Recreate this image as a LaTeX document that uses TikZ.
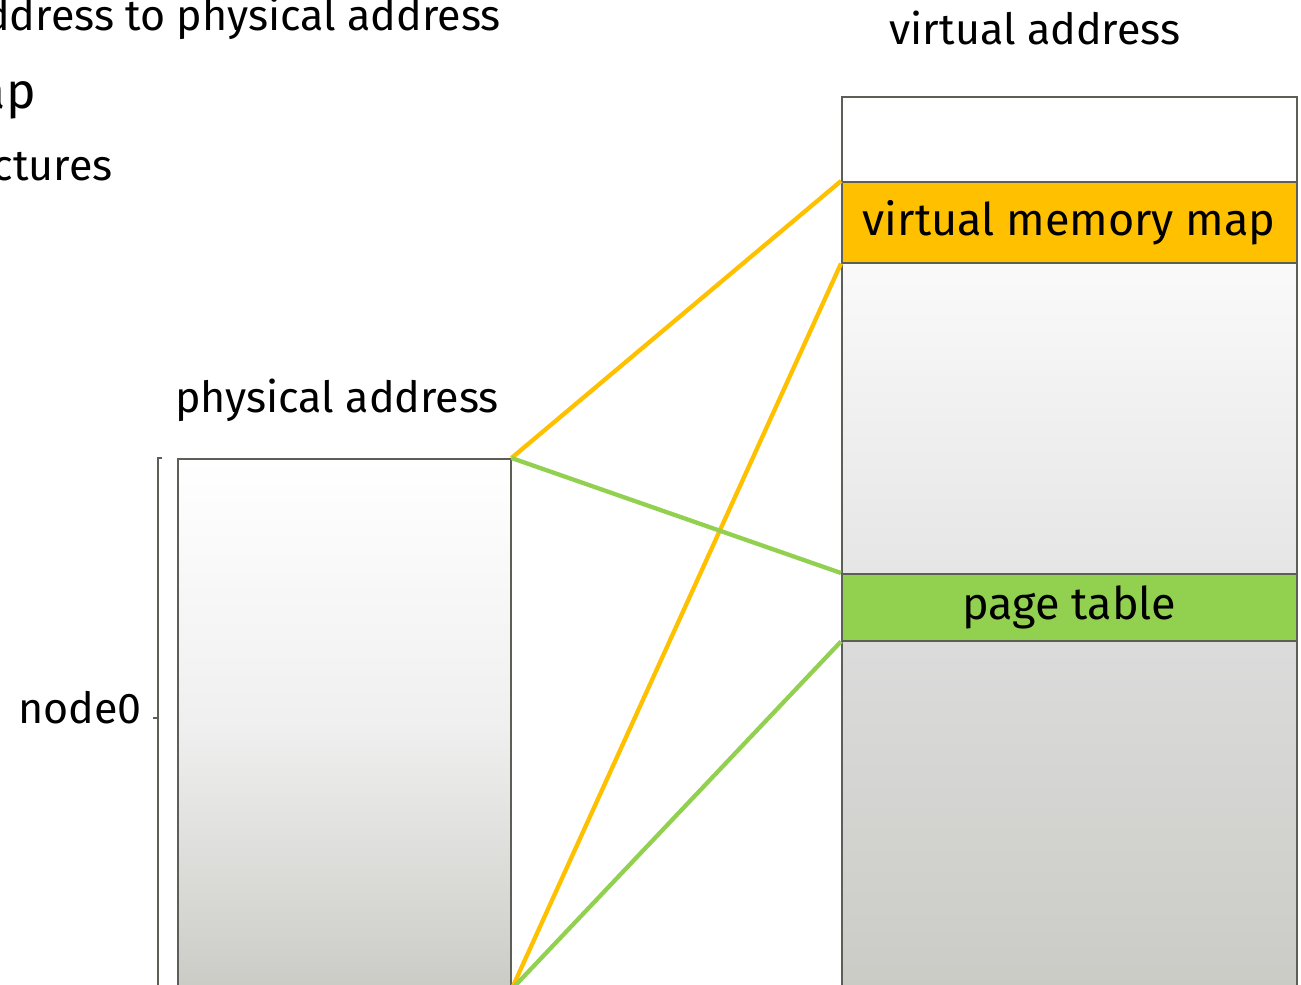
\documentclass[tikz,border=0pt]{standalone}
\usepackage{fontspec}
\setmainfont{Fira Sans}
\definecolor{edge}{HTML}{5E5E59}
\definecolor{mapfill}{HTML}{FFC000}
\definecolor{ptfill}{HTML}{92D050}
\definecolor{graylow}{HTML}{CBCBC6}
\begin{document}
\begin{tikzpicture}[x=1pt,y=-1pt,
  lbl/.style={inner sep=0pt,font=\fontsize{43}{48}\selectfont},
  bigl/.style={inner sep=0pt,font=\fontsize{50}{56}\selectfont},
  boxtext/.style={font=\fontsize{45}{50}\selectfont},
  seg/.style={draw=edge,line width=1.5pt,inner sep=0pt,minimum width=455pt,anchor=north west},
  link/.style={line width=4.3pt},
  orangelink/.style={link,draw=mapfill},
  greenlink/.style={link,draw=ptfill}]
\useasboundingbox (0,0) rectangle (1301,985);
\clip (0,0) rectangle (1301,985);

% headings cut by the left margin
\node[lbl,anchor=base east] (h1) at (501,30) {ddress to physical address};
\node[bigl,anchor=base east] (h2) at (36,108) {ap};
\node[lbl,anchor=base east] (h3) at (113,180) {ctures};

% physical address column
\node[lbl] (plabel) at (337,400) {physical address};
\node[draw=edge,line width=1.5pt,inner sep=0pt,minimum width=333pt,minimum height=530pt,
      anchor=north west,top color=white,bottom color=graylow,middle color=gray!12] (phys) at (177,458) {};
\draw[edge,line width=1.5pt] ([xshift=-15pt]phys.north west) -- ([xshift=-19pt]phys.north west)
      -- ([xshift=-19pt]phys.south west);
\draw[edge,line width=1.5pt] ([xshift=-19pt,yshift=-260pt]phys.north west) -- ([xshift=-24pt,yshift=-260pt]phys.north west);
\node[lbl,anchor=east] (nlabel) at (142,708) {node0};

% virtual address column
\node[lbl] (vlabel) at (1035,28) {virtual address};
\node[seg,minimum height=85pt,fill=white] (vtop) at (841,96) {};
\node[seg,minimum height=81pt,fill=mapfill,boxtext] (vmap) at (841,181) {virtual memory map};
\node[seg,minimum height=311pt,top color=gray!4,bottom color=gray!20] (vmid) at (841,262) {};
\node[seg,minimum height=67pt,fill=ptfill,boxtext] (vpt) at (841,573) {page table};
\node[seg,minimum height=348pt,top color=gray!28,bottom color=graylow] (vbot) at (841,640) {};

% mapping lines
\draw[orangelink] (phys.north east) -- (vmap.north west);
\draw[orangelink] (phys.south east) -- (vmap.south west);
\draw[greenlink] (phys.north east) -- (vpt.north west);
\draw[greenlink] (phys.south east) -- (vpt.south west);
\end{tikzpicture}
\end{document}
